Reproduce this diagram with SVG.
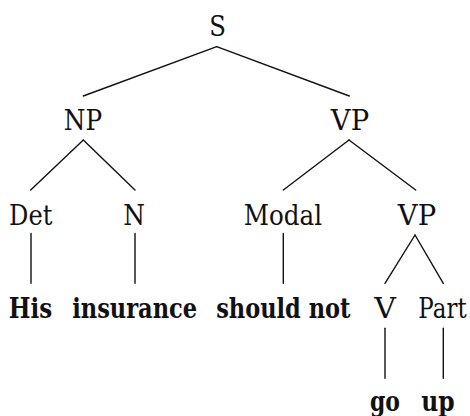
<svg xmlns="http://www.w3.org/2000/svg" width="470" height="416" viewBox="0 0 470 416">
<style>
text{font-family:'DejaVu Serif',serif;font-size:27px;fill:#111;text-anchor:middle}
.w{font-weight:bold}
.c line{stroke:#111;stroke-width:1.4;stroke-linecap:round}
</style>
<rect width="470" height="416" fill="#fff"/>
<g class="c" id="connectors">
<line x1="216.7" y1="46.7" x2="83.3" y2="96"/>
<line x1="216.7" y1="46.7" x2="349.3" y2="96"/>
<line x1="83.3" y1="140" x2="30.7" y2="190"/>
<line x1="83.3" y1="140" x2="135" y2="190"/>
<line x1="349" y1="140" x2="283.3" y2="190"/>
<line x1="349" y1="140" x2="415.7" y2="190"/>
<line x1="31" y1="233.5" x2="31" y2="283.3"/>
<line x1="135" y1="233.5" x2="135" y2="283.3"/>
<line x1="283.3" y1="233.5" x2="283.3" y2="283.3"/>
<line x1="415" y1="235" x2="385" y2="283.3"/>
<line x1="415" y1="235" x2="443.3" y2="283.3"/>
<line x1="385" y1="328.3" x2="385" y2="378.3"/>
<line x1="443.3" y1="328.3" x2="443.3" y2="378.3"/>
</g>
<g id="S"><text x="217.5" y="36" textLength="16.7" lengthAdjust="spacingAndGlyphs">S</text></g>
<g id="NP"><text x="83" y="130" textLength="38.3" lengthAdjust="spacingAndGlyphs">NP</text></g>
<g id="VP1"><text x="350" y="130" textLength="38.3" lengthAdjust="spacingAndGlyphs">VP</text></g>
<g id="Det"><text x="30.7" y="225" textLength="43.3" lengthAdjust="spacingAndGlyphs">Det</text></g>
<g id="N"><text x="134" y="225" textLength="21.7" lengthAdjust="spacingAndGlyphs">N</text></g>
<g id="Modal"><text x="283" y="225" textLength="78.3" lengthAdjust="spacingAndGlyphs">Modal</text></g>
<g id="VP2"><text x="417" y="225" textLength="38.3" lengthAdjust="spacingAndGlyphs">VP</text></g>
<g id="His"><text class="w" x="30.5" y="318" textLength="43.4" lengthAdjust="spacingAndGlyphs">His</text></g>
<g id="insurance"><text class="w" x="134.7" y="318" textLength="125" lengthAdjust="spacingAndGlyphs">insurance</text></g>
<g id="shouldnot"><text class="w" x="283.3" y="318" textLength="134.2" lengthAdjust="spacingAndGlyphs">should not</text></g>
<g id="V"><text x="385" y="318" textLength="21.7" lengthAdjust="spacingAndGlyphs">V</text></g>
<g id="Part"><text x="442.5" y="318" textLength="48.3" lengthAdjust="spacingAndGlyphs">Part</text></g>
<g id="go"><text class="w" x="385" y="411" textLength="30" lengthAdjust="spacingAndGlyphs">go</text></g>
<g id="up"><text class="w" x="438" y="411" textLength="33.4" lengthAdjust="spacingAndGlyphs">up</text></g>
</svg>
